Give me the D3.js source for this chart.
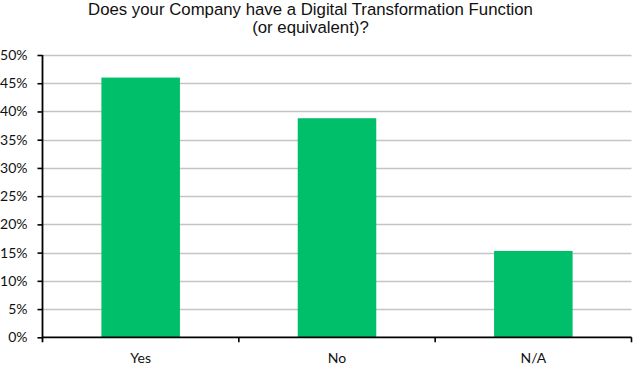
<!DOCTYPE html>
<html>
<head>
<meta charset="utf-8">
<script src="https://cdn.jsdelivr.net/npm/d3@7"></script>
<style>
    html, body { margin: 0; padding: 0; background: #fff; }
    svg { display: block; }
</style>
</head>
<body>
<svg id="chart" width="633" height="365"></svg>
<script>
// chart data
var categories = ["Yes", "No", "N/A"];
var shares = [46.0, 38.8, 15.3];
var yTicks = [0, 5, 10, 15, 20, 25, 30, 35, 40, 45, 50];
var titleLines = ["Does your Company have a Digital Transformation Function", "(or equivalent)?"];

function drawChart() {
    'use strict';
    var svg = d3.select("#chart"),
        left = 42.5,
        right = 631.5,
        top = 55,
        bottom = 337.3,
        labelFont = "Lato, 'Open Sans', sans-serif",
        x, y, data;

    data = categories.map(function (c, i) {
        return {key: c, value: shares[i]};
    });

    x = d3.scaleBand()
        .domain(categories)
        .range([left, right])
        .paddingInner(0.6)
        .paddingOuter(0.3);

    y = d3.scaleLinear()
        .domain([0, 50])
        .range([bottom, top]);

    // title
    svg.append("g")
        .selectAll("text")
        .data(titleLines)
        .enter()
        .append("text")
        .attr("x", 310.5)
        .attr("y", function (d, i) { return 14.5 + i * 18.5; })
        .attr("text-anchor", "middle")
        .style("font-family", "'Liberation Sans', Arial, sans-serif")
        .style("font-size", "16.8px")
        .style("fill", "#111")
        .text(function (d) { return d; });

    // gridlines
    svg.append("g")
        .selectAll("line")
        .data(yTicks.slice(1))
        .enter()
        .append("line")
        .attr("x1", left)
        .attr("x2", right)
        .attr("y1", function (d) { return Math.round(y(d)) + 0.5; })
        .attr("y2", function (d) { return Math.round(y(d)) + 0.5; })
        .style("stroke", "#c4c4c4")
        .style("stroke-width", 1.3);

    // bars
    svg.append("g")
        .selectAll("rect")
        .data(data)
        .enter()
        .append("rect")
        .attr("x", function (d) { return x(d.key); })
        .attr("y", function (d) { return y(d.value); })
        .attr("width", x.bandwidth())
        .attr("height", function (d) { return bottom - y(d.value); })
        .style("fill", "#00bf6b");

    // y axis
    var yAxis = svg.append("g")
        .attr("transform", "translate(" + left + ",0)")
        .call(d3.axisLeft(y)
            .tickValues(yTicks)
            .tickSize(5)
            .tickPadding(10)
            .tickFormat(function (d) { return d + "%"; }));
    yAxis.select(".domain").attr("d", "M0," + top + "V" + (bottom + 5));
    yAxis.selectAll("line").style("stroke", "#000").style("stroke-width", 1.6);
    yAxis.selectAll("path").style("stroke", "#000").style("stroke-width", 1.8);
    yAxis.selectAll("text")
        .style("font-family", labelFont)
        .style("font-size", "14px")
        .style("fill", "#111");

    // x axis: ticks at category boundaries
    var step = x.step(),
        bounds = d3.range(categories.length + 1).map(function (i) { return left + i * step; });
    var xAxis = svg.append("g");
    xAxis.append("line")
        .attr("x1", left)
        .attr("x2", right)
        .attr("y1", bottom)
        .attr("y2", bottom)
        .style("stroke", "#000")
        .style("stroke-width", 1.8);
    xAxis.selectAll("line.tick")
        .data(bounds.slice(1))
        .enter()
        .append("line")
        .attr("class", "tick")
        .attr("x1", function (d) { return d; })
        .attr("x2", function (d) { return d; })
        .attr("y1", bottom)
        .attr("y2", bottom + 5)
        .style("stroke", "#000")
        .style("stroke-width", 1.6);
    xAxis.selectAll("text")
        .data(categories)
        .enter()
        .append("text")
        .attr("x", function (d) { return x(d) + x.bandwidth() / 2; })
        .attr("y", 362.5)
        .attr("text-anchor", "middle")
        .style("font-family", labelFont)
        .style("font-size", "14px")
        .style("fill", "#111")
        .text(function (d) { return d; });
}

drawChart();
</script>
</body>
</html>
